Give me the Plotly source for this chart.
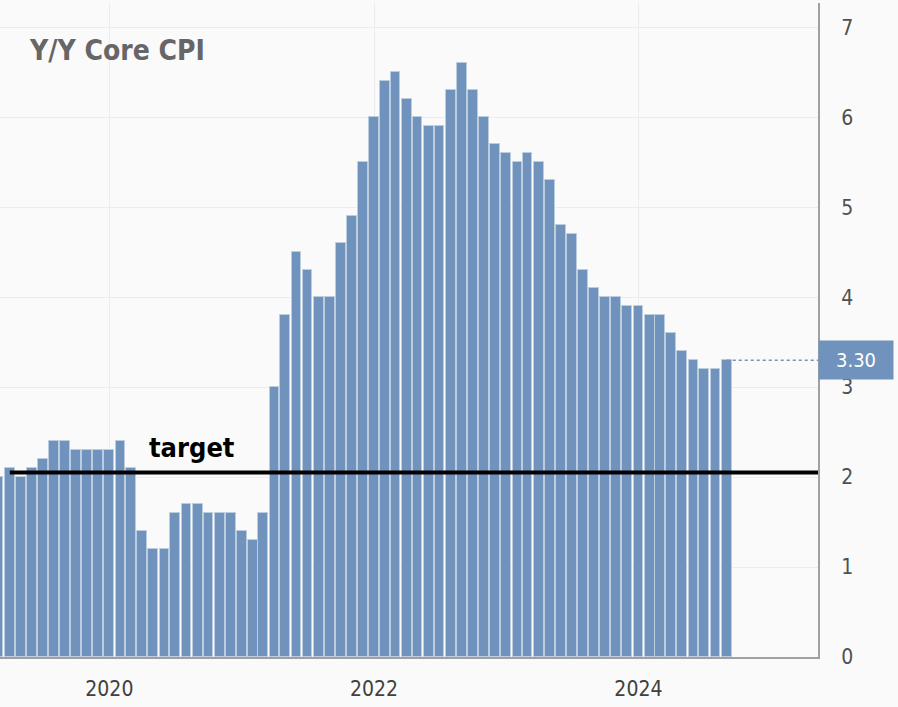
import plotly.graph_objects as go

# monthly Y/Y core CPI, Mar 2019 .. Sep 2024
months = [f"{y}-{m:02d}-01" for y in range(2019, 2025) for m in range(1, 13)]
months = months[2:2 + 67]
core_cpi = [
    2.0, 2.1, 2.0, 2.1, 2.2, 2.4, 2.4, 2.3, 2.3, 2.3,
    2.3, 2.4, 2.1, 1.4, 1.2, 1.2, 1.6, 1.7, 1.7, 1.6, 1.6, 1.6,
    1.4, 1.3, 1.6, 3.0, 3.8, 4.5, 4.3, 4.0, 4.0, 4.6, 4.9, 5.5,
    6.0, 6.4, 6.5, 6.2, 6.0, 5.9, 5.9, 6.3, 6.6, 6.3, 6.0, 5.7,
    5.6, 5.5, 5.6, 5.5, 5.3, 4.8, 4.7, 4.3, 4.1, 4.0, 4.0, 3.9,
    3.9, 3.8, 3.8, 3.6, 3.4, 3.3, 3.2, 3.2, 3.3,
]
year_ticks = ["2020-01-01", "2022-01-01", "2024-01-01"]
year_labels = ["2020", "2022", "2024"]
target = 2.05
last_value = core_cpi[-1]

BAR = "#6f93bc"
BG = "#fafafa"
FONT = "DejaVu Sans Condensed, DejaVu Sans, sans-serif"
DAY_MS = 86400000

fig = go.Figure(
    go.Bar(
        x=months, y=core_cpi,
        width=[27 * DAY_MS] * len(months),
        marker=dict(color=BAR, line=dict(color="#bccde0", width=1)),
        hoverinfo="x+y",
    )
)

fig.update_layout(
    width=898, height=707,
    margin=dict(l=0, r=80, t=3, b=50),
    paper_bgcolor=BG, plot_bgcolor=BG,
    showlegend=False,
    font=dict(family=FONT, color="#444"),
    bargap=0,
)
fig.update_xaxes(
    type="date", range=["2019-03-05", "2025-05-11"],
    tickvals=year_ticks, ticktext=year_labels,
    tickfont=dict(size=21, color="#404040"),
    showgrid=True, gridcolor="#ececec",
    showline=True, linecolor="#a0a0a0", linewidth=2,
    ticks="", ticklabelstandoff=12,
)
fig.update_yaxes(
    side="right", range=[0, 7.27],
    tickvals=[0, 1, 2, 3, 4, 5, 6, 7],
    tickfont=dict(size=21, color="#505050"),
    showgrid=True, gridcolor="#ececec", zeroline=False,
    showline=True, linecolor="#a0a0a0", linewidth=2,
    ticks="", ticklabelstandoff=17,
)

# dotted marker line from last bar to the axis
fig.add_shape(
    type="line", xref="x", yref="y",
    x0=months[-1], x1="2025-05-11", y0=last_value, y1=last_value,
    line=dict(color=BAR, width=1.5, dash="dot"),
)
# target line
fig.add_shape(
    type="line", xref="paper", yref="y",
    x0=0.012, x1=1.0, y0=target, y1=target,
    line=dict(color="black", width=4),
)

fig.add_annotation(
    xref="paper", yref="y", x=1.0, y=last_value,
    xanchor="left", yanchor="middle",
    text="3.30", showarrow=False,
    font=dict(size=20, color="white"),
    bgcolor=BAR, width=70, height=34, borderpad=2,
)
fig.add_annotation(
    xref="paper", yref="paper", x=27 / 818, y=1 - 47 / 654,
    xanchor="left", yanchor="middle",
    text="<b>Y/Y Core CPI</b>", showarrow=False,
    font=dict(size=28, color="#666"),
)
fig.add_annotation(
    xref="paper", yref="y", x=147 / 818, y=2.33,
    xanchor="left", yanchor="middle",
    text="<b>target</b>", showarrow=False,
    font=dict(size=27, color="black"),
)

# page body has a default 8px margin; drop it so the figure sits at the corner
fig.write_html(
    "out.html",
    config={"displayModeBar": False},
    post_script="document.body.style.margin='0px';",
)
